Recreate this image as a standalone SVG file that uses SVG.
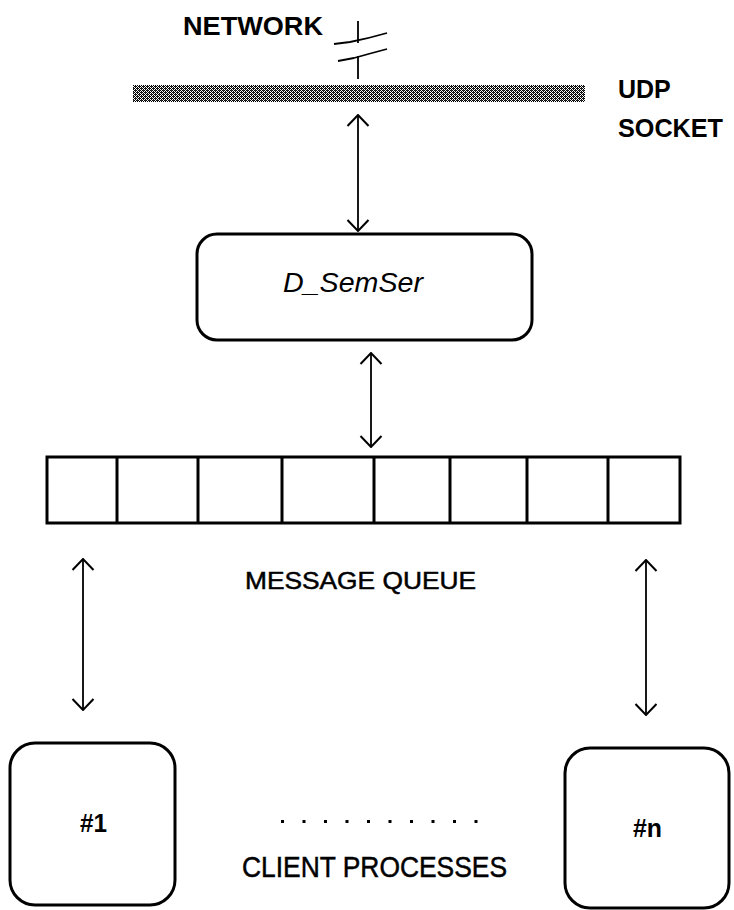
<svg xmlns="http://www.w3.org/2000/svg" width="734" height="910" viewBox="0 0 734 910">
  <defs>
    <!-- dithered fill for the socket bar -->
    <pattern id="dither" width="4" height="4" patternUnits="userSpaceOnUse">
      <rect width="4" height="4" fill="#ffffff"/>
      <rect x="0" y="0" width="1" height="1" fill="#000"/>
      <rect x="2" y="0" width="1" height="1" fill="#000"/>
      <rect x="1" y="1" width="1" height="1" fill="#000"/>
      <rect x="3" y="1" width="1" height="1" fill="#000"/>
      <rect x="0" y="2" width="1" height="1" fill="#000"/>
      <rect x="2" y="2" width="1" height="1" fill="#000"/>
      <rect x="1" y="3" width="1" height="1" fill="#000"/>
      <rect x="3" y="3" width="1" height="1" fill="#000"/>
      <rect x="1" y="0" width="1" height="1" fill="#333"/>
      <rect x="3" y="2" width="1" height="1" fill="#333"/>
    </pattern>
    <!-- open V arrowhead, wide 45-degree arms -->
    <marker id="open" viewBox="0 0 13 24" refX="12" refY="12" markerWidth="13" markerHeight="24" markerUnits="userSpaceOnUse" orient="auto-start-reverse">
      <path d="M1,1.5 L12,12 L1,22.5" fill="none" stroke="#000" stroke-width="2"/>
    </marker>
  </defs>
  <style>
    .box { fill: #fff; stroke: #000; stroke-width: 3; }
    .link { stroke: #000; stroke-width: 1.8; fill: none; marker-start: url(#open); marker-end: url(#open); }
    .lbl { font-family: "Liberation Sans", Arial, sans-serif; fill: #000; }
    .b { font-weight: bold; }
    .med { stroke: #000; stroke-width: 0.5; }
  </style>
  <rect width="734" height="910" fill="#fff"/>

  <!-- network symbol and socket bar -->
  <g id="network">
    <text class="lbl b" x="183" y="35" font-size="25" textLength="140" lengthAdjust="spacingAndGlyphs">NETWORK</text>
    <path d="M358,21 V43 M358,56 V79" stroke="#000" stroke-width="1.8" fill="none"/>
    <path d="M334,44 L350,42 Q370,38 387,33" stroke="#000" stroke-width="1.8" fill="none"/>
    <path d="M338,61 L354,58 Q372,53 387,49" stroke="#000" stroke-width="1.8" fill="none"/>
  </g>
  <g id="udp-socket">
    <rect x="133" y="85" width="452" height="17" fill="url(#dither)"/>
    <text class="lbl b" x="618" y="98" font-size="25">UDP</text>
    <text class="lbl b" x="618" y="137" font-size="25" textLength="105" lengthAdjust="spacingAndGlyphs">SOCKET</text>
  </g>

  <!-- server process -->
  <g id="d-semser">
    <rect class="box" x="197" y="234" width="335" height="106" rx="20" ry="20"/>
    <text class="lbl" x="283" y="292" font-size="28" font-style="italic" textLength="140" lengthAdjust="spacingAndGlyphs">D_SemSer</text>
  </g>

  <!-- message queue -->
  <g id="message-queue">
    <rect class="box" x="47" y="457" width="633" height="66"/>
    <path d="M117,457 V523 M198,457 V523 M282,457 V523 M374,457 V523 M450,457 V523 M527,457 V523 M608,457 V523" stroke="#000" stroke-width="3"/>
    <text class="lbl med" x="245" y="589" font-size="24" textLength="231" lengthAdjust="spacingAndGlyphs">MESSAGE QUEUE</text>
  </g>

  <!-- client processes -->
  <g id="client-1">
    <rect class="box" x="10" y="743" width="165" height="162" rx="25" ry="25"/>
    <text class="lbl b" x="80" y="832" font-size="26" textLength="27" lengthAdjust="spacingAndGlyphs">#1</text>
  </g>
  <g id="client-n">
    <rect class="box" x="565" y="748" width="164" height="160" rx="25" ry="25"/>
    <text class="lbl b" x="633" y="837" font-size="26" textLength="29" lengthAdjust="spacingAndGlyphs">#n</text>
  </g>
  <g id="client-label">
    <g fill="#000">
      <rect x="281" y="820" width="3" height="3"/>
      <rect x="302.5" y="820" width="3" height="3"/>
      <rect x="324" y="820" width="3" height="3"/>
      <rect x="345.5" y="820" width="3" height="3"/>
      <rect x="367" y="820" width="3" height="3"/>
      <rect x="388.5" y="820" width="3" height="3"/>
      <rect x="410" y="820" width="3" height="3"/>
      <rect x="431.5" y="820" width="3" height="3"/>
      <rect x="453" y="820" width="3" height="3"/>
      <rect x="474.5" y="820" width="3" height="3"/>
    </g>
    <text class="lbl med" x="242" y="877" font-size="30" textLength="265" lengthAdjust="spacingAndGlyphs">CLIENT PROCESSES</text>
  </g>

  <!-- connectors -->
  <g id="connectors">
    <line class="link" x1="358" y1="115" x2="358" y2="231"/>
    <line class="link" x1="371" y1="353" x2="371" y2="447"/>
    <line class="link" x1="83" y1="559" x2="83" y2="710"/>
    <line class="link" x1="646" y1="560" x2="646" y2="715"/>
  </g>
</svg>
